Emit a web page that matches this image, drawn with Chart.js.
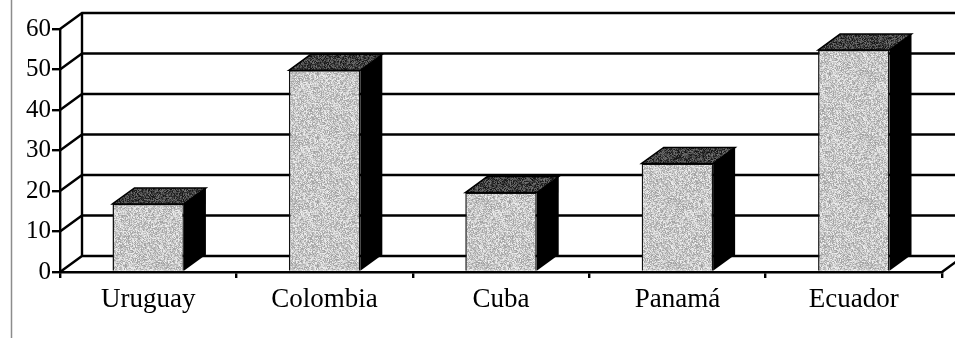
<!DOCTYPE html>
<html>
<head>
<meta charset="utf-8">
<script src="https://cdn.jsdelivr.net/npm/chart.js@4/dist/chart.umd.min.js"></script>
<style>
  html, body { margin: 0; padding: 0; background: #fff; }
  #wrap { width: 955px; height: 338px; position: relative; }
</style>
</head>
<body>
<div id="wrap"><canvas id="c" width="955" height="338"></canvas></div>
<script>
// Data
const countries = ['Uruguay', 'Colombia', 'Cuba', 'Panamá', 'Ecuador'];
const values = [16.8, 49.8, 19.6, 26.8, 54.8];
const yTicks = [0, 10, 20, 30, 40, 50, 60];

// Perspective offset of the back wall relative to the front plane
const DX = 22, DY = -16;

// Grainy grey texture (seeded so every render is identical)
function grain(base, spread, seed) {
  const c = document.createElement('canvas');
  c.width = c.height = 64;
  const g = c.getContext('2d');
  const img = g.createImageData(64, 64);
  let s = seed;
  for (let i = 0; i < 64 * 64; i++) {
    s = (s * 1103515245 + 12345) & 0x7fffffff;
    const r = (s / 0x7fffffff - 0.5) * 2 * spread;
    const v = Math.max(0, Math.min(255, Math.round(base + r)));
    img.data[i * 4] = img.data[i * 4 + 1] = img.data[i * 4 + 2] = v;
    img.data[i * 4 + 3] = 255;
  }
  g.putImageData(img, 0, 0);
  return c;
}

const canvas = document.getElementById('c');
const ctx0 = canvas.getContext('2d');
const frontFill = ctx0.createPattern(grain(200, 42, 7), 'repeat');
const topFill = ctx0.createPattern(grain(66, 50, 13), 'repeat');

const serif = "'Liberation Serif', 'Times New Roman', serif";

const depthPlugin = {
  id: 'depth',
  beforeDraw(chart) {
    const ctx = chart.ctx;
    ctx.save();
    ctx.strokeStyle = '#8c8c8c';
    ctx.lineWidth = 1.5;
    ctx.beginPath();
    ctx.moveTo(11.5, 0);
    ctx.lineTo(11.5, chart.height);
    ctx.stroke();
    ctx.restore();
  },
  beforeDatasetsDraw(chart) {
    const { ctx, chartArea: a, scales: { y } } = chart;
    ctx.save();
    ctx.strokeStyle = '#000';
    ctx.lineWidth = 2.4;
    ctx.lineJoin = 'miter';

    // side wall diagonals and back wall gridlines
    yTicks.forEach(v => {
      const py = y.getPixelForValue(v);
      ctx.beginPath();
      ctx.moveTo(a.left, py);
      ctx.lineTo(a.left + DX, py + DY);
      ctx.lineTo(chart.width + 40, py + DY);
      ctx.stroke();
    });

    // back wall left edge
    ctx.beginPath();
    ctx.moveTo(a.left + DX, y.getPixelForValue(0) + DY);
    ctx.lineTo(a.left + DX, y.getPixelForValue(60) + DY);
    ctx.stroke();

    // floor right edge
    ctx.beginPath();
    ctx.moveTo(a.right, a.bottom);
    ctx.lineTo(a.right + DX, a.bottom + DY);
    ctx.stroke();
    ctx.restore();
  },
  afterDatasetsDraw(chart) {
    const ctx = chart.ctx;
    const meta = chart.getDatasetMeta(0);
    ctx.save();
    meta.data.forEach(bar => {
      const p = bar.getProps(['x', 'y', 'base', 'width'], true);
      const l = p.x - p.width / 2, r = p.x + p.width / 2;
      const top = p.y, base = p.base;

      // right side face
      ctx.fillStyle = '#000';
      ctx.beginPath();
      ctx.moveTo(r, top);
      ctx.lineTo(r + DX, top + DY);
      ctx.lineTo(r + DX, base + DY);
      ctx.lineTo(r, base);
      ctx.closePath();
      ctx.fill();

      // top face
      ctx.fillStyle = topFill;
      ctx.beginPath();
      ctx.moveTo(l, top);
      ctx.lineTo(l + DX, top + DY);
      ctx.lineTo(r + DX, top + DY);
      ctx.lineTo(r, top);
      ctx.closePath();
      ctx.fill();
      ctx.strokeStyle = '#000';
      ctx.lineWidth = 1.5;
      ctx.stroke();
    });
    ctx.restore();
  }
};

new Chart(canvas, {
  type: 'bar',
  data: {
    labels: countries,
    datasets: [{
      data: values,
      backgroundColor: frontFill,
      borderColor: '#111',
      borderWidth: 1.5,
      categoryPercentage: 1,
      barPercentage: 0.405
    }]
  },
  options: {
    responsive: false,
    animation: false,
    devicePixelRatio: 1,
    layout: { padding: { left: 0, top: 29, right: 13, bottom: 0 } },
    plugins: { legend: { display: false }, tooltip: { enabled: false } },
    scales: {
      x: {
        afterFit(s) { s.height = 66; },
        grid: { display: true, drawOnChartArea: false, drawTicks: true, tickLength: 6, lineWidth: 2.4, color: '#000', offset: true },
        border: { display: true, color: '#000', width: 2.4 },
        ticks: { color: '#000', padding: 6, font: { family: serif, size: 27 } }
      },
      y: {
        min: 0,
        max: 60,
        afterFit(s) { s.width = 60; },
        afterBuildTicks(s) { s.ticks = yTicks.map(v => ({ value: v })); },
        grid: { display: true, drawOnChartArea: false, drawTicks: true, tickLength: 8, lineWidth: 2.4, color: '#000' },
        border: { display: true, color: '#000', width: 2.4 },
        ticks: { color: '#000', padding: 1, font: { family: serif, size: 25 } }
      }
    }
  },
  plugins: [depthPlugin]
});
</script>
</body>
</html>
